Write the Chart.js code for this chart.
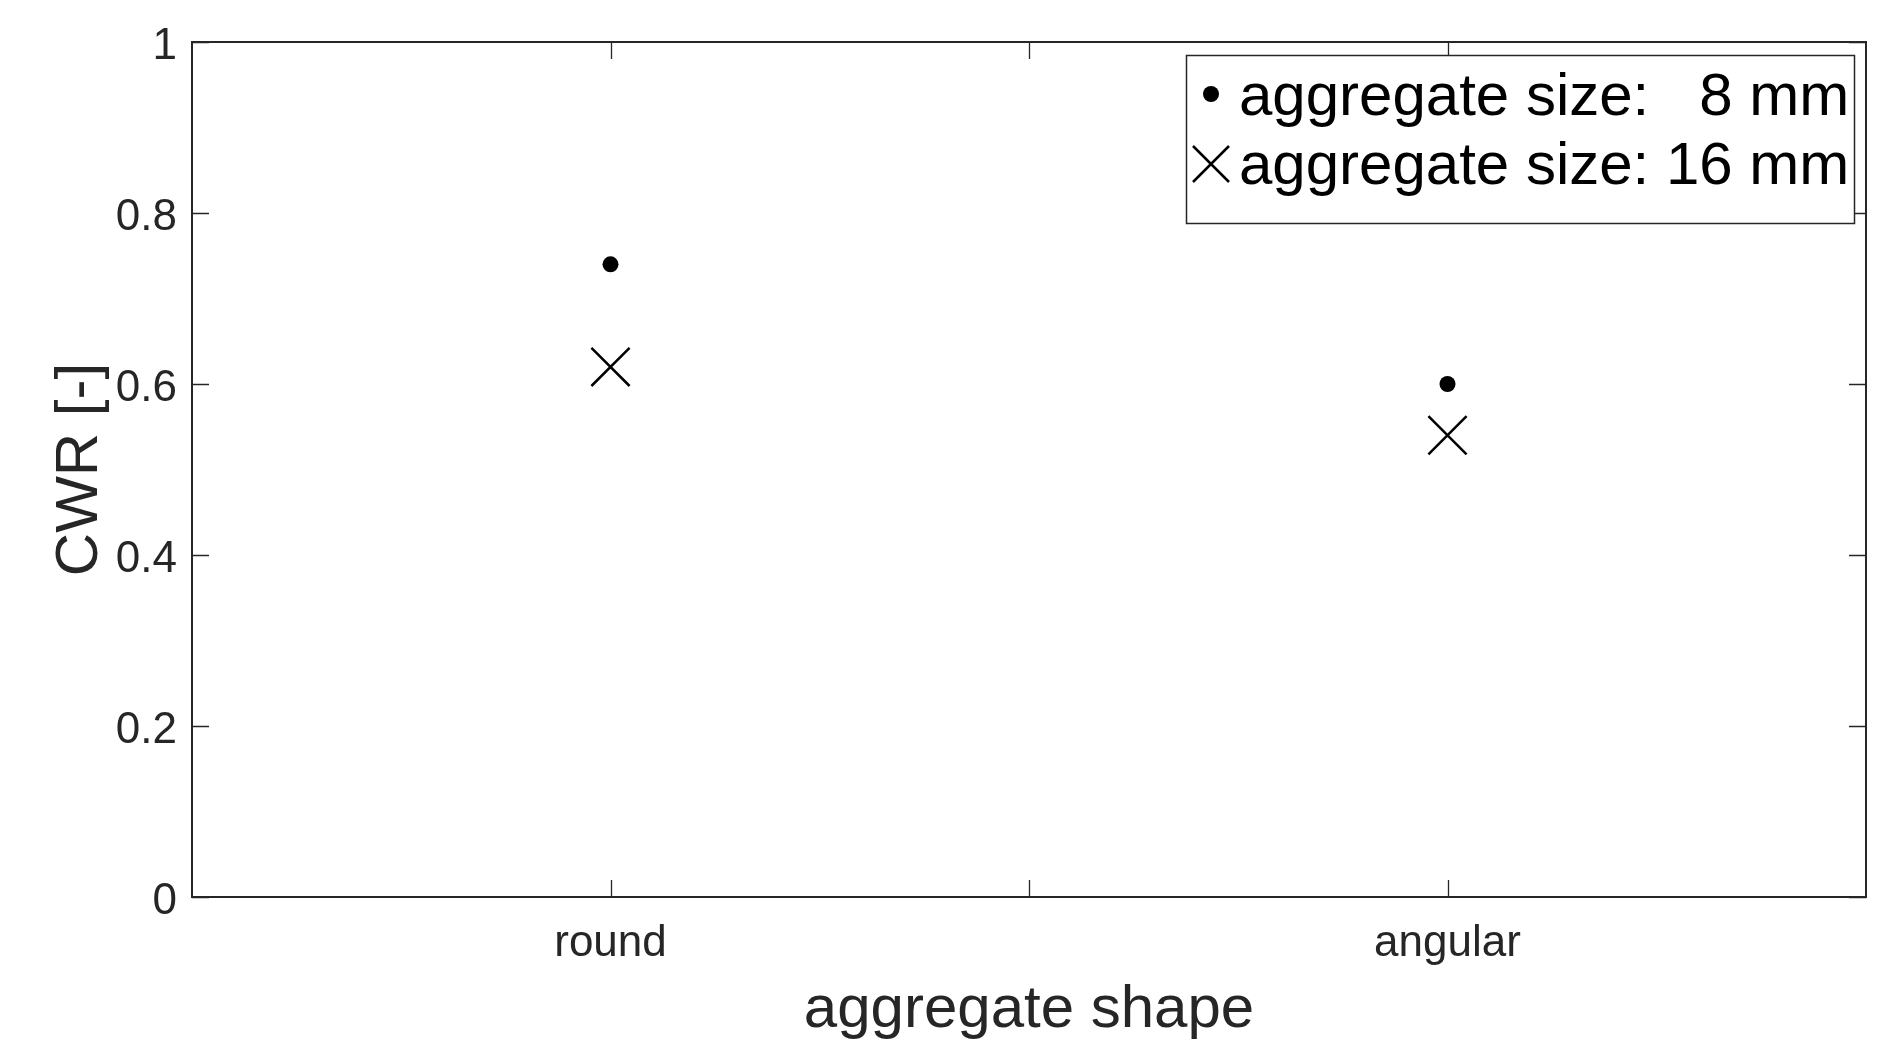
<!DOCTYPE html>
<html>
<head>
<meta charset="utf-8">
<script src="https://cdn.jsdelivr.net/npm/chart.js@4.4.1/dist/chart.umd.min.js"></script>
<style>
  html, body { margin: 0; padding: 0; background: #fff; }
  #wrap { width: 1904px; height: 1060px; }
</style>
</head>
<body>
<div id="wrap"><canvas id="myChart" width="1904" height="1060"></canvas></div>
<script>
// values
const categories = ["round", "angular"];
const xPositions = [1, 2];
const size8 = [0.74, 0.60];
const size16 = [0.62, 0.54];
const yTicks = [0, 0.2, 0.4, 0.6, 0.8, 1];
const xTicks = [1, 1.5, 2];
const legendNames = ["aggregate size:   8 mm", "aggregate size: 16 mm"];

const axisColor = "#262626";
const fontFamily = "'Liberation Sans', Arial, sans-serif";

// draws the box, the inward ticks and the legend like the MATLAB figure
const boxPlugin = {
    id: "box",
    afterDraw(chart) {
        const ctx = chart.ctx;
        const a = chart.chartArea;
        const xs = chart.scales.x;
        const ys = chart.scales.y;
        const tl = 17;
        ctx.save();
        ctx.strokeStyle = axisColor;
        ctx.lineWidth = 2;
        ctx.strokeRect(a.left, a.top, a.right - a.left, a.bottom - a.top);
        ctx.lineWidth = 1.3;
        ctx.beginPath();
        yTicks.forEach(v => {
            const y = Math.round(ys.getPixelForValue(v)) + 0.5;
            ctx.moveTo(a.left, y); ctx.lineTo(a.left + tl, y);
            ctx.moveTo(a.right, y); ctx.lineTo(a.right - tl, y);
        });
        xTicks.forEach(v => {
            const x = Math.round(xs.getPixelForValue(v)) + 0.5;
            ctx.moveTo(x, a.bottom); ctx.lineTo(x, a.bottom - tl);
            ctx.moveTo(x, a.top); ctx.lineTo(x, a.top + tl);
        });
        ctx.stroke();

        // legend
        const lx = 1186, ly = 55, lw = 668, lh = 168;
        ctx.fillStyle = "#fff";
        ctx.fillRect(lx, ly, lw, lh);
        ctx.strokeStyle = axisColor;
        ctx.lineWidth = 1.5;
        ctx.strokeRect(lx + 0.5, ly + 0.5, lw, lh);
        ctx.font = "60px " + fontFamily;
        ctx.fillStyle = "#000";
        ctx.textBaseline = "middle";
        ctx.textAlign = "left";
        const rows = [98, 167];
        rows.forEach((y, i) => {
            ctx.fillText(legendNames[i], 1239, y);
        });
        ctx.beginPath();
        ctx.arc(1211, 94, 8, 0, Math.PI * 2);
        ctx.fill();
        ctx.strokeStyle = "#000";
        ctx.lineWidth = 2.5;
        ctx.beginPath();
        ctx.moveTo(1193, 146); ctx.lineTo(1229, 182);
        ctx.moveTo(1229, 146); ctx.lineTo(1193, 182);
        ctx.stroke();
        ctx.restore();
    }
};

const ctx = document.getElementById("myChart").getContext("2d");

const myChart = new Chart(ctx, {
    type: "scatter",
    data: {
        datasets: [{
            label: legendNames[0],
            data: xPositions.map((x, i) => ({ x: x, y: size8[i] })),
            pointStyle: "circle",
            pointRadius: 8,
            backgroundColor: "#000",
            borderColor: "#000",
            borderWidth: 0
        }, {
            label: legendNames[1],
            data: xPositions.map((x, i) => ({ x: x, y: size16[i] })),
            pointStyle: "crossRot",
            pointRadius: 27,
            backgroundColor: "#000",
            borderColor: "#000",
            borderWidth: 2.5
        }]
    },
    options: {
        responsive: false,
        animation: false,
        events: [],
        layout: { padding: { top: 42, right: 38, left: 0, bottom: 0 } },
        scales: {
            x: {
                type: "linear",
                min: 0.5,
                max: 2.5,
                afterBuildTicks: scale => { scale.ticks = xTicks.map(v => ({ value: v })); },
                afterFit: scale => { scale.height = 163; },
                grid: { display: false, drawTicks: false },
                border: { display: false },
                ticks: {
                    padding: 20,
                    color: axisColor,
                    font: { family: fontFamily, size: 44 },
                    maxRotation: 0,
                    callback: v => {
                        const i = xPositions.indexOf(v);
                        return i >= 0 ? categories[i] : "";
                    }
                },
                title: {
                    display: true,
                    text: "aggregate shape",
                    color: axisColor,
                    font: { family: fontFamily, size: 60 },
                    padding: { top: 0, bottom: 14 }
                }
            },
            y: {
                min: 0,
                max: 1,
                afterBuildTicks: scale => { scale.ticks = yTicks.map(v => ({ value: v })); },
                afterFit: scale => { scale.width = 192; },
                grid: { display: false, drawTicks: false },
                border: { display: false },
                ticks: {
                    padding: 15,
                    labelOffset: 5,
                    color: axisColor,
                    font: { family: fontFamily, size: 44 },
                    callback: v => String(v)
                },
                title: {
                    display: true,
                    text: "CWR [-]",
                    color: axisColor,
                    font: { family: fontFamily, size: 60 },
                    padding: { top: 44, bottom: 0 }
                }
            }
        },
        plugins: {
            legend: { display: false },
            tooltip: { enabled: false }
        }
    },
    plugins: [boxPlugin]
});
</script>
</body>
</html>
